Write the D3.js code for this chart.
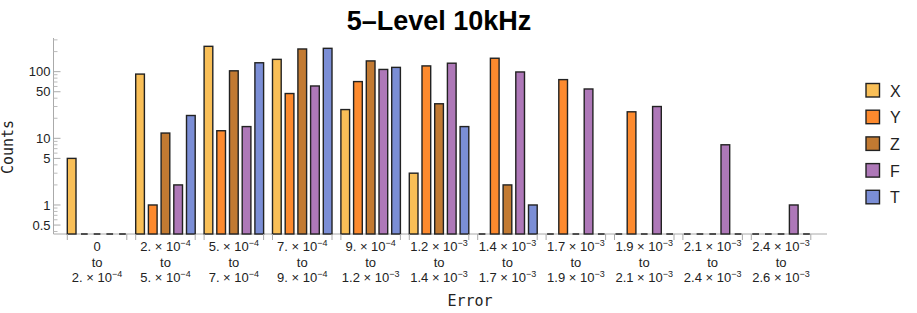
<!DOCTYPE html>
<html>
<head>
<meta charset="utf-8">
<script src="https://cdn.jsdelivr.net/npm/d3@7"></script>
<style>
  body { margin: 0; background: #fff; }
  svg { display: block; }
</style>
</head>
<body>
<div id="wrapper"></div>
<script>
// Data
const binEdges = ["0", "2.e-4", "5.e-4", "7.e-4", "9.e-4", "1.2e-3", "1.4e-3",
    "1.7e-3", "1.9e-3", "2.1e-3", "2.4e-3", "2.6e-3"]
const seriesNames = ["X", "Y", "Z", "F", "T"]
const seriesColors = ["#f9bf57", "#fd8a2e", "#c27a32", "#ae78b8", "#7b8ed6"]
const countsX = [5, 92, 240, 153, 27, 3, 0, 0, 0, 0, 0]
const countsY = [0, 1, 13, 47, 71, 122, 159, 76, 25, 0, 0]
const countsZ = [0, 12, 103, 219, 145, 33, 2, 0, 0, 0, 0]
const countsF = [0, 2, 15, 61, 108, 134, 99, 55, 30, 8, 1]
const countsT = [0, 22, 136, 224, 116, 15, 1, 0, 0, 0, 0]
const yTickValues = [0.5, 1, 5, 10, 50, 100]

const allCounts = [countsX, countsY, countsZ, countsF, countsT]
const groups = d3.range(binEdges.length - 1)

// Dimensions
let dimensions = {
    width: 917,
    height: 313,
    axisX: 53.5,
    baseline: 234,
    top: 38,
    groupStart: 62.85,
    groupEnd: 815.25,
}

const wrapper = d3.select("#wrapper")
    .append("svg")
        .attr("width", dimensions.width)
        .attr("height", dimensions.height)

// Scales
const xScale = d3.scaleBand()
    .domain(groups)
    .range([dimensions.groupStart, dimensions.groupEnd])
    .paddingInner(0.0716)
    .paddingOuter(0.0358)

const innerScale = d3.scaleBand()
    .domain(seriesNames)
    .range([0, xScale.bandwidth()])
    .paddingInner(0.315)
    .paddingOuter(0.1575)

const yScale = d3.scaleLog()
    .domain([0.367, 320])
    .range([dimensions.baseline, dimensions.top])

// Title
wrapper.append("text")
    .attr("x", 439)
    .attr("y", 30)
    .attr("text-anchor", "middle")
    .style("font-family", "'Liberation Sans', Arial, sans-serif")
    .style("font-weight", "bold")
    .style("font-size", "27px")
    .text("5\u2013Level 10kHz")

// Axes
const minorTicks = []
;[0.1, 1, 10, 100].forEach(p => {
    for (let m = 1; m <= 9; m++) {
        const v = +(m * p).toPrecision(3)
        if (v >= 0.4 && v <= 300 && !yTickValues.includes(v)) minorTicks.push(v)
    }
})

const yAxis = wrapper.append("g")
yAxis.append("line")
    .attr("x1", dimensions.axisX).attr("x2", dimensions.axisX)
    .attr("y1", dimensions.top).attr("y2", dimensions.baseline)
    .attr("stroke", "#aaa")
yAxis.selectAll(".major")
    .data(yTickValues)
    .join("line")
        .attr("x1", dimensions.axisX).attr("x2", dimensions.axisX + 7)
        .attr("y1", d => yScale(d)).attr("y2", d => yScale(d))
        .attr("stroke", "#aaa")
yAxis.selectAll(".minor")
    .data(minorTicks)
    .join("line")
        .attr("x1", dimensions.axisX).attr("x2", dimensions.axisX + 4)
        .attr("y1", d => yScale(d)).attr("y2", d => yScale(d))
        .attr("stroke", "#bbb")
yAxis.selectAll("text")
    .data(yTickValues)
    .join("text")
        .attr("x", dimensions.axisX - 3)
        .attr("y", d => yScale(d))
        .attr("dy", "0.36em")
        .attr("text-anchor", "end")
        .style("font-family", "'Liberation Sans', Arial, sans-serif")
        .style("font-size", "13px")
        .attr("fill", "#222")
        .text(d => d)

// x axis line
wrapper.append("line")
    .attr("x1", dimensions.axisX).attr("x2", 827)
    .attr("y1", dimensions.baseline).attr("y2", dimensions.baseline)
    .attr("stroke", "#aaa")

// Bars
const barGroups = wrapper.selectAll(".group")
    .data(groups)
    .join("g")
        .attr("transform", g => `translate(${xScale(g)},0)`)

barGroups.selectAll("rect")
    .data(g => seriesNames.map((s, i) => ({ s, i, v: allCounts[i][g] })).filter(d => d.v > 0))
    .join("rect")
        .attr("x", d => innerScale(d.s))
        .attr("y", d => yScale(d.v))
        .attr("width", innerScale.bandwidth())
        .attr("height", d => dimensions.baseline - yScale(d.v))
        .attr("fill", d => seriesColors[d.i])
        .attr("stroke", "#222")
        .attr("stroke-width", 1.4)

barGroups.selectAll(".zero")
    .data(g => seriesNames.map((s, i) => ({ s, i, v: allCounts[i][g] })).filter(d => d.v === 0))
    .join("line")
        .attr("x1", d => innerScale(d.s) + 1)
        .attr("x2", d => innerScale(d.s) + innerScale.bandwidth() - 1)
        .attr("y1", dimensions.baseline).attr("y2", dimensions.baseline)
        .attr("stroke", "#222")
        .attr("stroke-width", 1.5)

// group brackets
const firstX = innerScale(seriesNames[0])
const lastX = innerScale(seriesNames[seriesNames.length - 1]) + innerScale.bandwidth()
barGroups.selectAll(".tick")
    .data([firstX, lastX])
    .join("line")
        .attr("x1", d => d).attr("x2", d => d)
        .attr("y1", dimensions.baseline).attr("y2", dimensions.baseline + 6)
        .attr("stroke", "#aaa")

// group labels
function addNumber(textSel, edge) {
    if (!edge.includes("e")) {
        textSel.append("tspan").text(edge)
        return
    }
    const [mant, exp] = edge.split("e")
    textSel.append("tspan").text(`${mant} \u00d7 10`)
    textSel.append("tspan")
        .attr("dy", -5)
        .style("font-size", "9px")
        .text(exp.replace("-", "\u2212"))
}

const labelFont = "'Liberation Sans', Arial, sans-serif"
barGroups.each(function (g) {
    const cx = (firstX + lastX) / 2
    const sel = d3.select(this)
    const t1 = sel.append("text")
        .attr("x", cx).attr("y", 251)
        .attr("text-anchor", "middle")
        .style("font-family", labelFont).style("font-size", "13px").attr("fill", "#222")
    addNumber(t1, binEdges[g])
    sel.append("text")
        .attr("x", cx).attr("y", 266.5)
        .attr("text-anchor", "middle")
        .style("font-family", labelFont).style("font-size", "13px").attr("fill", "#222")
        .text("to")
    const t3 = sel.append("text")
        .attr("x", cx).attr("y", 281.5)
        .attr("text-anchor", "middle")
        .style("font-family", labelFont).style("font-size", "13px").attr("fill", "#222")
    addNumber(t3, binEdges[g + 1])
})

// Axis labels
wrapper.append("text")
    .attr("x", 470)
    .attr("y", 306)
    .attr("text-anchor", "middle")
    .style("font-family", "'DejaVu Sans Mono', monospace")
    .style("font-size", "15px")
    .attr("fill", "#222")
    .text("Error")

wrapper.append("text")
    .attr("transform", "translate(12.5,147) rotate(-90)")
    .attr("text-anchor", "middle")
    .style("font-family", "'DejaVu Sans Mono', monospace")
    .style("font-size", "15px")
    .attr("fill", "#222")
    .text("Counts")

// Legend
const legend = wrapper.append("g")
    .attr("transform", "translate(866,83.5)")
const legendItems = legend.selectAll("g")
    .data(seriesNames)
    .join("g")
        .attr("transform", (d, i) => `translate(0,${i * 26.7})`)
legendItems.append("rect")
    .attr("width", 13.5).attr("height", 13.5)
    .attr("fill", (d, i) => seriesColors[i])
    .attr("stroke", "#222")
    .attr("stroke-width", 1.4)
legendItems.append("text")
    .attr("x", 24)
    .attr("y", 13)
    .style("font-family", "'Liberation Sans', Arial, sans-serif")
    .style("font-size", "16px")
    .attr("fill", "#222")
    .text(d => d)
</script>
</body>
</html>
